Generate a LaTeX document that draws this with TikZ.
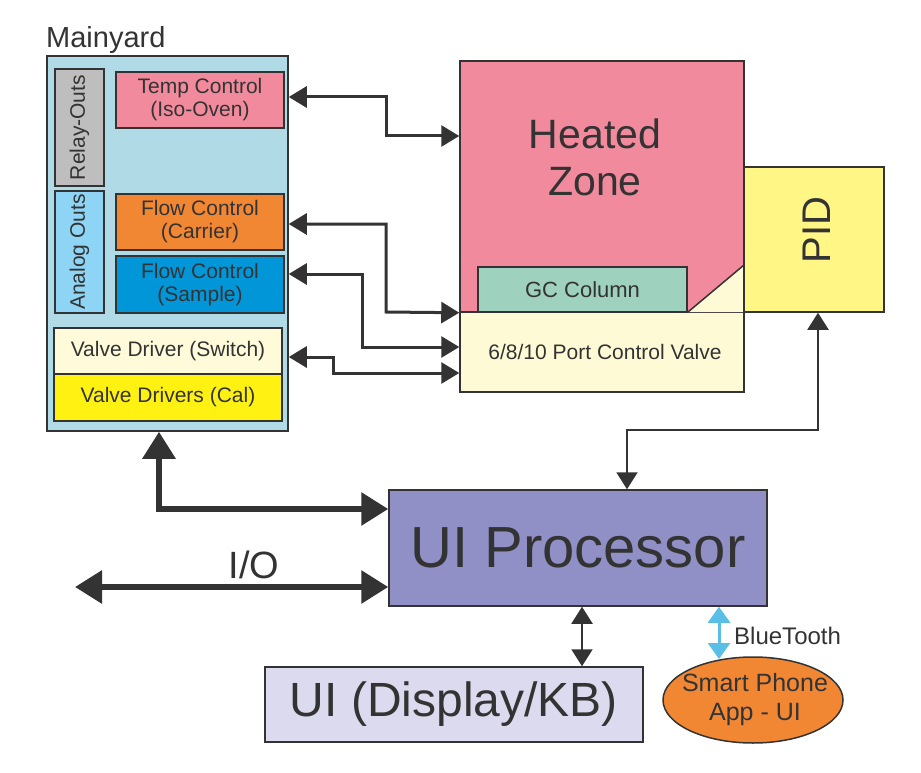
\documentclass[tikz,border=0pt]{standalone}
\usepackage{fontspec}
\setmainfont{Liberation Sans}
\usetikzlibrary{arrows.meta,shapes.geometric}

\definecolor{edge}{HTML}{333333}
\definecolor{mainc}{HTML}{B0DAE6}
\definecolor{relayc}{HTML}{BEBEBE}
\definecolor{analogc}{HTML}{8ED5F5}
\definecolor{tempc}{HTML}{F28A9D}
\definecolor{carrierc}{HTML}{F28733}
\definecolor{samplec}{HTML}{0096D8}
\definecolor{switchc}{HTML}{FFFBDA}
\definecolor{calc}{HTML}{FFF212}
\definecolor{valvec}{HTML}{FFFAD6}
\definecolor{gcc}{HTML}{9FD1BF}
\definecolor{pidc}{HTML}{FFF685}
\definecolor{procc}{HTML}{9090C6}
\definecolor{dispc}{HTML}{DCDAEE}
\definecolor{btc}{HTML}{5ABFE6}

\begin{document}
\begin{tikzpicture}[x=1pt,y=-1pt,
   box/.style={draw=edge, line width=1.5pt, inner sep=0pt, text=edge, align=center},
   txt/.style={font=\fontsize{21}{23}\selectfont},
   midarr/.style={draw=edge, line width=3pt, {Triangle[length=18pt,width=21pt]}-{Triangle[length=18pt,width=21pt]}},
   thickarr/.style={draw=edge, line width=6pt, {Triangle[length=27pt,width=32pt]}-{Triangle[length=27pt,width=32pt]}},
   thinarr/.style={draw=edge, line width=2pt, {Triangle[length=17pt,width=21pt]}-{Triangle[length=17pt,width=21pt]}}]
   \useasboundingbox (0,0) rectangle (921,773);

   \node[box, fill=mainc, minimum width=241pt, minimum height=375pt] (main) at (167.5,243.5) {};
   \node[anchor=base west, inner sep=0pt, text=edge, font=\fontsize{29}{30}\selectfont] (mainlbl) at (46,48) {Mainyard};

   \node[box, txt, fill=relayc, rotate=90, minimum width=117pt, minimum height=49pt] (relay) at (79.5,127.5) {Relay-Outs};
   \node[box, txt, fill=analogc, rotate=90, minimum width=122pt, minimum height=49pt] (analog) at (79.5,252) {Analog Outs};
   \node[box, txt, fill=tempc, minimum width=168pt, minimum height=56pt] (temp) at (200,100) {Temp Control\\(Iso-Oven)};
   \node[box, txt, fill=carrierc, minimum width=168pt, minimum height=56pt] (carrier) at (200,222) {Flow Control\\(Carrier)};
   \node[box, txt, fill=samplec, minimum width=168pt, minimum height=57pt] (sample) at (200,284.5) {Flow Control\\(Sample)};
   \node[box, txt, fill=switchc, minimum width=228pt, minimum height=46pt] (switch) at (168,351) {Valve Driver (Switch)};
   \node[box, txt, fill=calc, minimum width=228pt, minimum height=47pt] (cal) at (168,397.5) {Valve Drivers (Cal)};

   \node[box, fill=tempc, minimum width=284pt, minimum height=251pt] (zone) at (602,186.5) {};
   \node[text=edge, align=center, font=\fontsize{41}{47}\selectfont] (zonelbl) at (595,157) {Heated\\Zone};
   \node[box, txt, fill=valvec, minimum width=284pt, minimum height=80pt] (valve) at (602,352) {\hspace{6pt}6/8/10 Port Control Valve};
   \draw[edge, line width=1.5pt, fill=valvec] (688,312) -- (744,265) -- (744,312);
   \node[box, fill=gcc, font=\fontsize{22}{24}\selectfont, minimum width=209pt, minimum height=45pt] (gc) at (582.5,289.5) {GC Column};
   \node[box, fill=pidc, minimum width=140pt, minimum height=145pt] (pid) at (814,239.5) {};
   \node[rotate=90, text=edge, font=\fontsize{40}{44}\selectfont] (pidlbl) at (817,230) {PID};

   \node[box, fill=procc, font=\fontsize{58}{60}\selectfont, minimum width=378pt, minimum height=116pt] (proc) at (578,548) {UI Processor};
   \node[box, fill=dispc, font=\fontsize{48}{50}\selectfont, minimum width=378pt, minimum height=75pt] (disp) at (454,704.5) {UI (Display/KB)};
   \node[box, ellipse, fill=carrierc, minimum width=180pt, minimum height=86pt] (phone) at (753,700) {};
   \node[text=edge, align=center, font=\fontsize{25}{29}\selectfont] (phonelbl) at (755,700) {Smart Phone\\App - UI};

   \draw[midarr] (main.east |- 0,97) -| (386,136) -- (zone.west |- 0,136);
   \draw[midarr] (main.east |- 0,224) -| (386,312) -- (zone.south west);
   \draw[midarr] (main.east |- 0,274) -| (362,347) -- (valve.west |- 0,347);
   \draw[midarr] (main.east |- 0,357) -| (333,373) -- (valve.west |- 0,373);

   \draw[thinarr] ([xshift=4pt]pid.south) |- (627,430) -- (627,430 |- proc.north);
   \draw[thickarr] (main.south -| 159,0) |- (proc.west |- 0,509);
   \coordinate (io) at (75,587);
   \draw[thickarr] (io) -- (proc.west |- io);
   \node[text=edge, font=\fontsize{38}{40}\selectfont] (iolbl) at (254,565) {I/O};

   \draw[thinarr] (proc.south -| 582,0) -- (disp.north -| 582,0);
   \draw[draw=btc, line width=3pt, {Triangle[length=16pt,width=22pt]}-{Triangle[length=16pt,width=22pt]}] (proc.south -| 719,0) -- (719,659);
   \node[anchor=west, inner sep=0pt, text=edge, font=\fontsize{24}{26}\selectfont] (bt) at (734,636) {BlueTooth};

\end{tikzpicture}
\end{document}
